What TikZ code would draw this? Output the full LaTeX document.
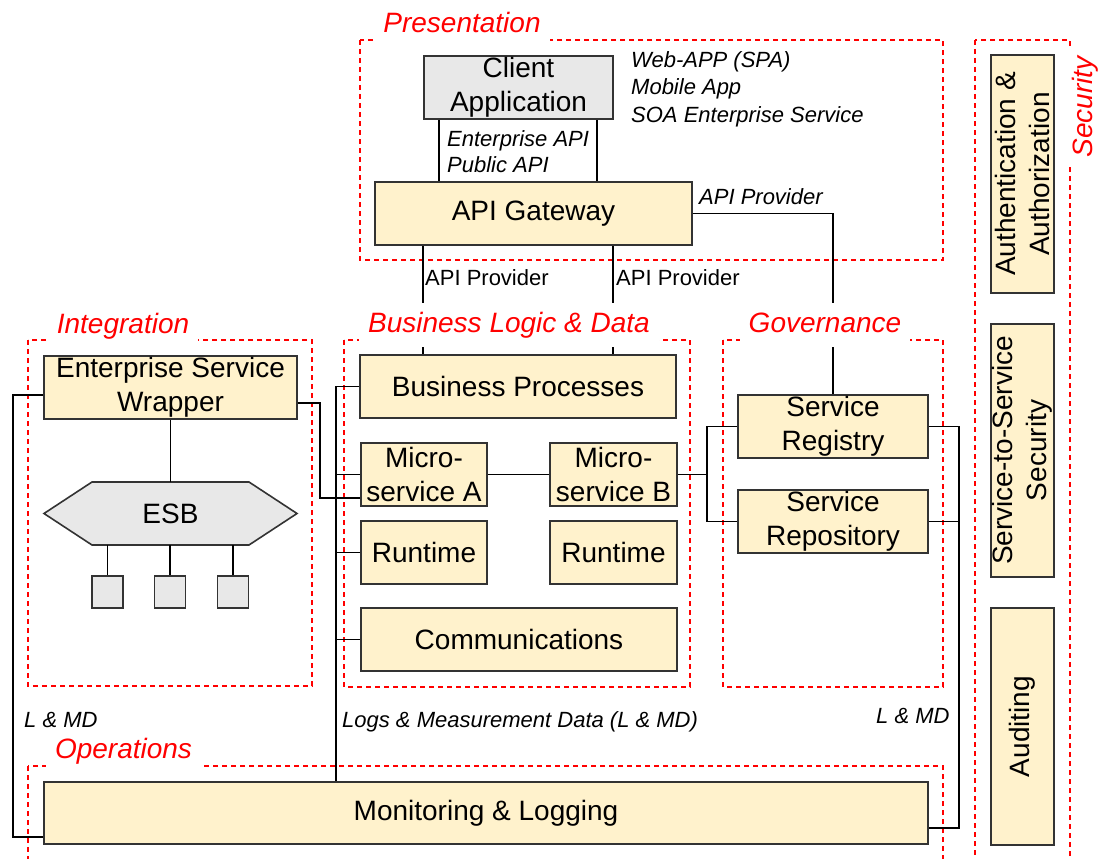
\documentclass[tikz,border=0pt]{standalone}
\usepackage{fontspec}
\setmainfont{Liberation Sans}
\definecolor{boxfill}{HTML}{FFF2CC}
\definecolor{grayfill}{HTML}{E8E8E8}
\definecolor{edge}{HTML}{333333}
\definecolor{grpred}{HTML}{FF0000}
\begin{document}
\begin{tikzpicture}[x=1pt,y=-1pt,
  comp/.style={draw=edge, line width=1.6pt, fill=boxfill, inner sep=0pt, align=center, font=\fontsize{28}{34}\selectfont},
  graycomp/.style={comp, fill=grayfill},
  grp/.style={draw=grpred, line width=1.3pt, dash pattern=on 5pt off 4pt},
  grplabel/.style={fill=white, text=grpred, font=\fontsize{28}{34}\selectfont\itshape, anchor=base, inner xsep=9pt, inner ysep=7pt, text height=22pt, text depth=8pt},
  lbl/.style={font=\fontsize{22}{27}\selectfont\itshape, anchor=base west, inner sep=0pt},
  plainlbl/.style={font=\fontsize{22}{27}\selectfont, anchor=base west, inner sep=0pt},
  wire/.style={draw=black, line width=1.4pt},
]
\useasboundingbox (0,0) rectangle (1098,859);
\clip (0,0) rectangle (1098,859);
\fill[white] (0,0) rectangle (1098,859);

% groups
\draw[grp] (360,40) rectangle (943,260);
\draw[grp] (28,340) rectangle (312,686);
\draw[grp] (344,340) rectangle (690,687);
\draw[grp] (723,340) rectangle (943,687);
\draw[grp] (28,766) rectangle (943,900);
\draw[grp] (975,40) rectangle (1070,900);

% helper coordinates
\coordinate (xA) at (439,0);
\coordinate (xB) at (597,0);
\coordinate (xC) at (423,0);
\coordinate (xD) at (613,0);
\coordinate (xbus) at (336,0);
\coordinate (xesw) at (320,0);
\coordinate (xgovL) at (707,0);
\coordinate (xgovR) at (959,0);
\coordinate (xleft) at (13,0);
\coordinate (yeswR) at (0,403);
\coordinate (yeswL) at (0,395);
\coordinate (ymsA) at (0,498);
\coordinate (ymonL) at (0,837);
\coordinate (ymonR) at (0,828);

% components
\node[graycomp, minimum width=189, minimum height=63] (client) at (518.5,87.5) {Client\\Application};
\node[comp, minimum width=317, minimum height=63] (gw) at (533.5,213.5) {API Gateway};
\node[comp, minimum width=253, minimum height=63] (esw) at (170.5,387.5) {Enterprise Service\\Wrapper};
\draw[draw=edge, line width=1.6pt, fill=grayfill] (44,513.5) -- (92,482) -- (249,482) -- (297,513.5) -- (249,545) -- (92,545) -- cycle;
\node[inner sep=0pt, minimum width=253, minimum height=63, font=\fontsize{28}{34}\selectfont] (esb) at (170.5,513.5) {ESB};
\node[graycomp, minimum width=31, minimum height=32] (sb1) at (107.5,592) {};
\node[graycomp, minimum width=31, minimum height=32] (sb2) at (170,592) {};
\node[graycomp, minimum width=31, minimum height=32] (sb3) at (233,592) {};
\node[comp, minimum width=316, minimum height=63] (bp) at (518,386.5) {Business Processes};
\node[comp, minimum width=126, minimum height=63] (msa) at (424,474.5) {Micro-\\service A};
\node[comp, minimum width=127, minimum height=63] (msb) at (613.5,474.5) {Micro-\\service B};
\node[comp, minimum width=126, minimum height=63] (rta) at (424,552.5) {Runtime};
\node[comp, minimum width=127, minimum height=63] (rtb) at (613.5,552.5) {Runtime};
\node[comp, minimum width=316, minimum height=63] (comm) at (519,639.5) {Communications};
\node[comp, minimum width=190, minimum height=63] (reg) at (833,426.5) {Service\\Registry};
\node[comp, minimum width=190, minimum height=63] (repo) at (833,521.5) {Service\\Repository};
\node[comp, minimum width=884, minimum height=62] (mon) at (486,813) {Monitoring \& Logging};
\node[comp, rotate=90, minimum width=238, minimum height=63] (auth) at (1022.5,174) {Authentication \&\\Authorization};
\node[comp, rotate=90, minimum width=253, minimum height=63] (s2s) at (1022.5,450.5) {Service-to-Service\\Security};
\node[comp, rotate=90, minimum width=237, minimum height=63] (aud) at (1022.5,726.5) {Auditing};

% connectors
\draw[wire] (client.south -| xA) -- (gw.north -| xA);
\draw[wire] (client.south -| xB) -- (gw.north -| xB);
\draw[wire] (gw.south -| xC) -- (bp.north -| xC);
\draw[wire] (gw.south -| xD) -- (bp.north -| xD);
\draw[wire] (gw.east) -| (reg.north);
\draw[wire] (esw.south) -- (esb.north);
\draw[wire] (sb1.north) -- (sb1.north |- esb.south);
\draw[wire] (sb2.north) -- (sb2.north |- esb.south);
\draw[wire] (sb3.north) -- (sb3.north |- esb.south);
\draw[wire] (esw.east |- yeswR) -| (xesw |- ymsA) -- (msa.west |- ymsA);
\draw[wire] (esw.west |- yeswL) -| (xleft |- ymonL) -- (mon.west |- ymonL);
\draw[wire] (bp.west) -| (xbus |- mon.north);
\draw[wire] (msa.west) -- (msa.west -| xbus);
\draw[wire] (rta.west) -- (rta.west -| xbus);
\draw[wire] (comm.west) -- (comm.west -| xbus);
\draw[wire] (msa.east) -- (msb.west);
\draw[wire] (msb.east) -- (msb.east -| xgovL);
\draw[wire] (reg.west) -| (repo.west -| xgovL) -- (repo.west);
\draw[wire] (reg.east) -| (xgovR |- ymonR) -- (mon.east |- ymonR);
\draw[wire] (repo.east) -- (repo.east -| xgovR);

% group headings
\node[grplabel] (hpres) at (462,33) {Presentation};
\node[grplabel] (hint) at (123,333) {Integration};
\node[grplabel] (hbld) at (509,332) {Business Logic \& Data};
\node[grplabel] (hgov) at (825,332) {Governance};
\node[grplabel] (hops) at (123.5,758) {Operations};
\node[grplabel, rotate=90] (hsec) at (1092,107) {Security};

% labels
\node[lbl] (w1) at (631,68) {Web-APP (SPA)};
\node[lbl] (w2) at (631,95) {Mobile App};
\node[lbl] (w3) at (631,122) {SOA Enterprise Service};
\node[lbl] (l1) at (447,146) {Enterprise API};
\node[lbl] (l2) at (447,172) {Public API};
\node[lbl] (l3) at (699,204) {API Provider};
\node[plainlbl] (l4) at (425,285) {API Provider};
\node[plainlbl] (l5) at (616,285) {API Provider};
\node[lbl] (l6) at (24,727) {L \& MD};
\node[lbl] (l7) at (342,727) {Logs \& Measurement Data (L \& MD)};
\node[lbl] (l8) at (876,723) {L \& MD};
\end{tikzpicture}
\end{document}
